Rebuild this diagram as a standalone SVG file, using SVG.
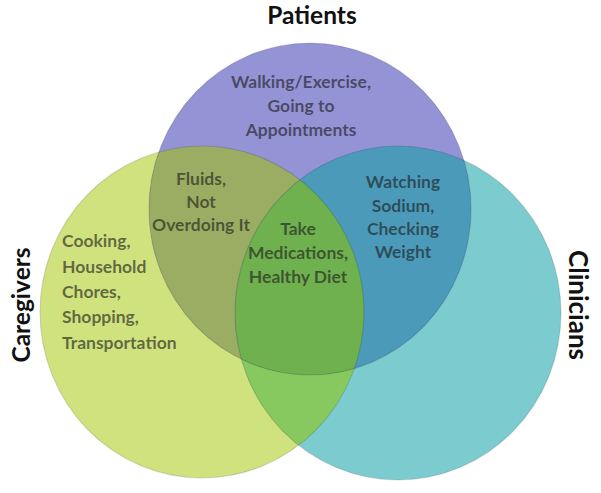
<svg xmlns="http://www.w3.org/2000/svg" width="601" height="493" viewBox="0 0 601 493">
<style>
.title{font-family:Lato,"Open Sans","Liberation Sans",sans-serif;font-weight:700;font-size:24.5px;fill:#111;text-anchor:middle}
.lbl{font-family:Lato,"Open Sans","Liberation Sans",sans-serif;font-weight:700;font-size:17.5px;fill:#1e1e1e;fill-opacity:0.64;text-anchor:middle}
.left{text-anchor:start}
.edge{fill:none;stroke:#000;stroke-opacity:0.13;stroke-width:1.2}
</style>
<defs>
<clipPath id="clipGreen"><ellipse cx="202" cy="312" rx="162" ry="166"/></clipPath>
<clipPath id="clipTeal"><ellipse cx="398" cy="313" rx="163" ry="167"/></clipPath>
</defs>
<rect width="601" height="493" fill="#ffffff"/>
<g id="caregivers">
<ellipse cx="202" cy="312" rx="162" ry="166" fill="#cfe27d"/>
</g>
<g id="clinicians">
<ellipse cx="398" cy="313" rx="163" ry="167" fill="#7ccbce"/>
</g>
<g id="patients">
<ellipse cx="310" cy="209" rx="161" ry="166" fill="#9393d6"/>
</g>
<g id="caregivers-clinicians">
<ellipse clip-path="url(#clipGreen)" cx="398" cy="313" rx="163" ry="167" fill="#88c95f"/>
</g>
<g id="patients-caregivers">
<ellipse clip-path="url(#clipGreen)" cx="310" cy="209" rx="161" ry="166" fill="#9aad62"/>
</g>
<g id="patients-clinicians">
<ellipse clip-path="url(#clipTeal)" cx="310" cy="209" rx="161" ry="166" fill="#4b9aba"/>
</g>
<g id="all-three">
<g clip-path="url(#clipTeal)">
<ellipse clip-path="url(#clipGreen)" cx="310" cy="209" rx="161" ry="166" fill="#6fb04f"/>
</g>
</g>
<g id="outlines">
<ellipse class="edge" cx="202" cy="312" rx="162" ry="166"/>
<ellipse class="edge" cx="398" cy="313" rx="163" ry="167"/>
<ellipse class="edge" cx="310" cy="209" rx="161" ry="166"/>
</g>
<g id="connectors"/>
<g id="titles">
<text class="title" x="312" y="24">Patients</text>
<text class="title" transform="translate(30,305) rotate(-90)">Caregivers</text>
<text class="title" transform="translate(569,305) rotate(90)" style="font-size:26px">Clinicians</text>
</g>
<g id="labels">
<text class="lbl" x="301" y="88">Walking/Exercise,</text>
<text class="lbl" x="301" y="112">Going to</text>
<text class="lbl" x="301" y="136">Appointments</text>
<text class="lbl" x="201" y="185">Fluids,</text>
<text class="lbl" x="201" y="208">Not</text>
<text class="lbl" x="201" y="231">Overdoing It</text>
<text class="lbl" x="298" y="235">Take</text>
<text class="lbl" x="298" y="259">Medications,</text>
<text class="lbl" x="298" y="283">Healthy Diet</text>
<text class="lbl" x="403" y="188">Watching</text>
<text class="lbl" x="403" y="212">Sodium,</text>
<text class="lbl" x="403" y="235">Checking</text>
<text class="lbl" x="403" y="258">Weight</text>
<text class="lbl left" x="62" y="247">Cooking,</text>
<text class="lbl left" x="62" y="273">Household</text>
<text class="lbl left" x="62" y="298">Chores,</text>
<text class="lbl left" x="62" y="323">Shopping,</text>
<text class="lbl left" x="62" y="349">Transportation</text>
</g>
</svg>
